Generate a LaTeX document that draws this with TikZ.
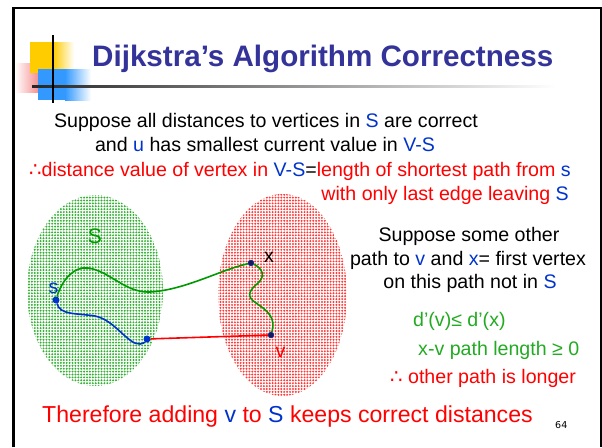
\documentclass[tikz,border=0pt]{standalone}
\usepackage{fontspec}
\setmainfont{Liberation Sans}
\newfontfamily\dejavu{DejaVu Sans}
\usepackage{xcolor}
\usetikzlibrary{patterns,shapes.geometric}
\definecolor{titleblue}{HTML}{333399}
\definecolor{setblue}{HTML}{0033CC}
\definecolor{pathgreen}{HTML}{009900}
\definecolor{textgreen}{HTML}{22AA22}
\definecolor{dotgreen}{HTML}{33B033}
\definecolor{dotred}{HTML}{FF3838}
\definecolor{vtxnavy}{HTML}{1A1A4D}
\definecolor{logoyellow}{HTML}{FFCC00}
\definecolor{logoblue}{HTML}{3399FF}
\definecolor{logored}{HTML}{F47070}
\pgfdeclarepatternformonly{fatdots}{\pgfqpoint{-1.2pt}{-1.2pt}}{\pgfqpoint{1.2pt}{1.2pt}}{\pgfqpoint{2.9pt}{2.9pt}}{\pgfpathcircle{\pgfqpoint{0pt}{0pt}}{1.1pt}\pgfusepath{fill}}
\newcommand{\bl}[1]{\textcolor{setblue}{#1}}
\newcommand{\thf}{{\dejavu ∴}}
\newcommand{\bodysize}{\fontsize{19.6}{23}\selectfont}
\tikzset{
  titletext/.style={font=\fontsize{29.6}{34}\selectfont\bfseries,text=titleblue,anchor=base west,inner sep=0pt},
  line/.style={font=\bodysize,inner sep=0pt,anchor=base},
  setshape/.style={ellipse,draw=none,inner sep=0pt},
  srcdot/.style={circle,fill=setblue,inner sep=0pt,minimum size=7pt},
  vtx/.style={circle,fill=vtxnavy,draw=setblue,line width=.4pt,inner sep=0pt,minimum size=6pt},
  pathline/.style={line width=1.6pt},
  lbl/.style={font=\bodysize,inner sep=0pt}
}
\begin{document}
\begin{tikzpicture}[x=1pt,y=-1pt]
  \useasboundingbox (0,0) rectangle (602,447);
  % slide frame
  \draw[line width=2.4pt] (13.5,447) -- (13.5,7.8) -- (601,7.8) -- (601,447);
  % logo squares and rule
  \shade[left color=white,right color=logored] (15,63) rectangle (45,92);
  \fill[logoyellow] (30,42) rectangle (53,73);
  \shade[left color=logoyellow,right color=white] (53,42) rectangle (74,73);
  \fill[logoblue] (38,69) rectangle (65,100);
  \shade[left color=logoblue,right color=white] (65,69) rectangle (91,100);
  \shade[left color=black!85,right color=white] (32,85.8) rectangle (556,87.8);
  \draw[line width=1.4pt] (53,35) -- (53,103);
  \node[titletext] (title) at (92,66) {Dijkstra’s Algorithm Correctness};

  % statement
  \node[line] (l1) at (266,127) {Suppose all distances to vertices in \bl{S} are correct};
  \node[line] (l2) at (265,151) {and \bl{u} has smallest current value in \bl{V-S}};
  \node[line,anchor=base west,text=red] (l3) at (29,176) {\thf distance value of vertex in \bl{V-S}\textcolor{black}{=}length of shortest path from \bl{s}};
  \node[line,anchor=base east,text=red] (l4) at (569,200) {with only last edge leaving \bl{S}};

  % the two sets
  \node[setshape,minimum width=136pt,minimum height=191pt,pattern=fatdots,pattern color=dotgreen] (setS) at (95,290.5) {};
  \node[setshape,minimum width=129pt,minimum height=202pt,pattern=fatdots,pattern color=dotred] (setV) at (282.5,295) {};
  \node[lbl,font=\fontsize{21}{24}\selectfont,text=pathgreen] (Slbl) at (95,236) {S};

  % vertices
  \node[srcdot] (s) at (56,300) {};
  \node[srcdot] (u) at (147,339) {};
  \node[vtx] (x) at (251,263) {};
  \node[vtx] (v) at (271,335) {};
  \node[lbl,text=setblue] (slbl) at (53.5,288) {s};
  \node[lbl] (xlbl) at (269,257) {x};
  \node[lbl,text=red] (vlbl) at (280.5,352) {v};

  % paths
  \draw[pathline,setblue] (s) .. controls (60,315) and (75,313) .. (95,316)
    .. controls (115,320) and (128,345) .. (140,344) .. controls (144,343) .. (u);
  \draw[pathline,pathgreen] (s) .. controls (62,280) and (74,266) .. (88,268)
    .. controls (110,271) and (125,293) .. (150,292) .. controls (185,290) and (220,270) .. (x);
  \draw[pathline,pathgreen] (x) .. controls (262,268) and (266,276) .. (258,283)
    .. controls (250,290) and (245,296) .. (256,303) .. controls (268,311) and (276,318) .. (v);
  \draw[pathline,red] (u) -- (v);

  % argument
  \node[line] (r1) at (469,241) {Suppose some other};
  \node[line] (r2) at (468,265.5) {path to \bl{v} and \bl{x}= first vertex};
  \node[line] (r3) at (470,288) {on this path not in \bl{S}};
  \node[line,anchor=base west,text=textgreen] (g1) at (413,326) {d’(v)≤ d’(x)};
  \node[line,anchor=base west,text=textgreen] (g2) at (418,355) {x-v path length ≥ 0};
  \node[line,anchor=base west,text=red] (g3) at (390,383) {\thf\ other path is longer};

  \node[line,anchor=base west,font=\fontsize{23.1}{27}\selectfont,text=red] (concl) at (42,422)
    {Therefore adding \bl{v} to \bl{S} keeps correct distances};
  \node[line,anchor=base west,font=\dejavu\fontsize{9.5}{11}\selectfont] (pageno) at (555,428) {64};
\end{tikzpicture}
\end{document}
